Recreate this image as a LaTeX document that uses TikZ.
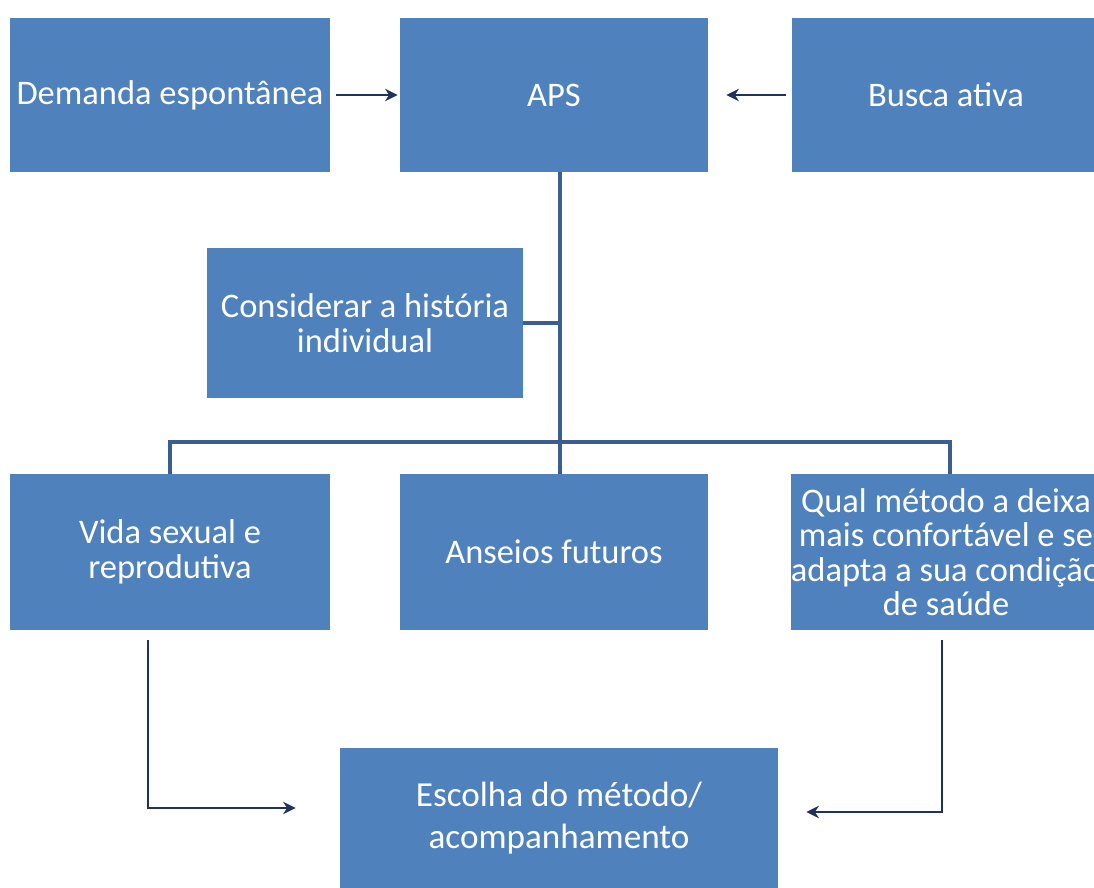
\documentclass[tikz,border=0pt]{standalone}
\usepackage{fontspec}
\setmainfont{Carlito}
\usepackage{xcolor}
\usetikzlibrary{arrows.meta}
\definecolor{boxblue}{HTML}{4F81BD}
\definecolor{busblue}{HTML}{3A5F8F}
\definecolor{navy}{HTML}{1F3259}
\begin{document}
\begin{tikzpicture}[x=0.025cm,y=-0.025cm,
box/.style={fill=boxblue,draw=none,text=white,align=center,font=\fontsize{24.5}{24.5}\selectfont,inner sep=0pt},
bus/.style={busblue,line width=3pt},
arr/.style={navy,line width=1pt,-{Stealth[length=9pt,width=9pt]}}]
\useasboundingbox (0,0) rectangle (1094,888);
\clip (0,0) rectangle (1094,888);
\fill[white](0,0) rectangle (1094,888);
\node[box,minimum width=8cm,minimum height=3.85cm](dem)at(170,95){Demanda espontânea};
\node[box,minimum width=7.7cm,minimum height=3.85cm](aps)at(554,95){APS};
\node[box,minimum width=7.7cm,minimum height=3.85cm](busca)at(946,95){Busca ativa};
\node[box,minimum width=7.9cm,minimum height=3.75cm](cons)at(365,323){Considerar a história\\individual};
\node[box,minimum width=8cm,minimum height=3.9cm](vida)at(170,552){Vida sexual e\\reprodutiva};
\node[box,minimum width=7.7cm,minimum height=3.9cm](ans)at(554,552){Anseios futuros};
\node[box,minimum width=7.7cm,minimum height=3.9cm](qual)at(946,552){Qual método a deixa\\mais confortável e se\\adapta a sua condição\\de saúde};
\node[box,minimum width=10.95cm,minimum height=3.5cm,font=\fontsize{25}{30}\selectfont](esc)at(559,818){Escolha do método/\\acompanhamento};
\draw[arr,shorten <=0.15cm,shorten >=0.05cm](dem)--(aps);
\draw[arr,shorten <=0.15cm,shorten >=0.45cm](busca)--(aps);
\coordinate(j)at(560,442);
\draw[bus]([xshift=0.15cm]aps.south)--([xshift=0.15cm]ans.north);
\draw[bus](cons.east)--(cons.east-|j);
\draw[bus](vida.north)--(vida.north|-j)--([xshift=0.1cm]qual.north|-j)--([xshift=0.1cm]qual.north);
\draw[arr]([xshift=-0.55cm,yshift=-0.25cm]vida.south)|-([xshift=-1.1cm,yshift=0.25cm]esc.west);
\draw[arr]([xshift=-0.1cm,yshift=-0.25cm]qual.south)|-([xshift=0.7cm,yshift=0.15cm]esc.east);
\end{tikzpicture}
\end{document}
